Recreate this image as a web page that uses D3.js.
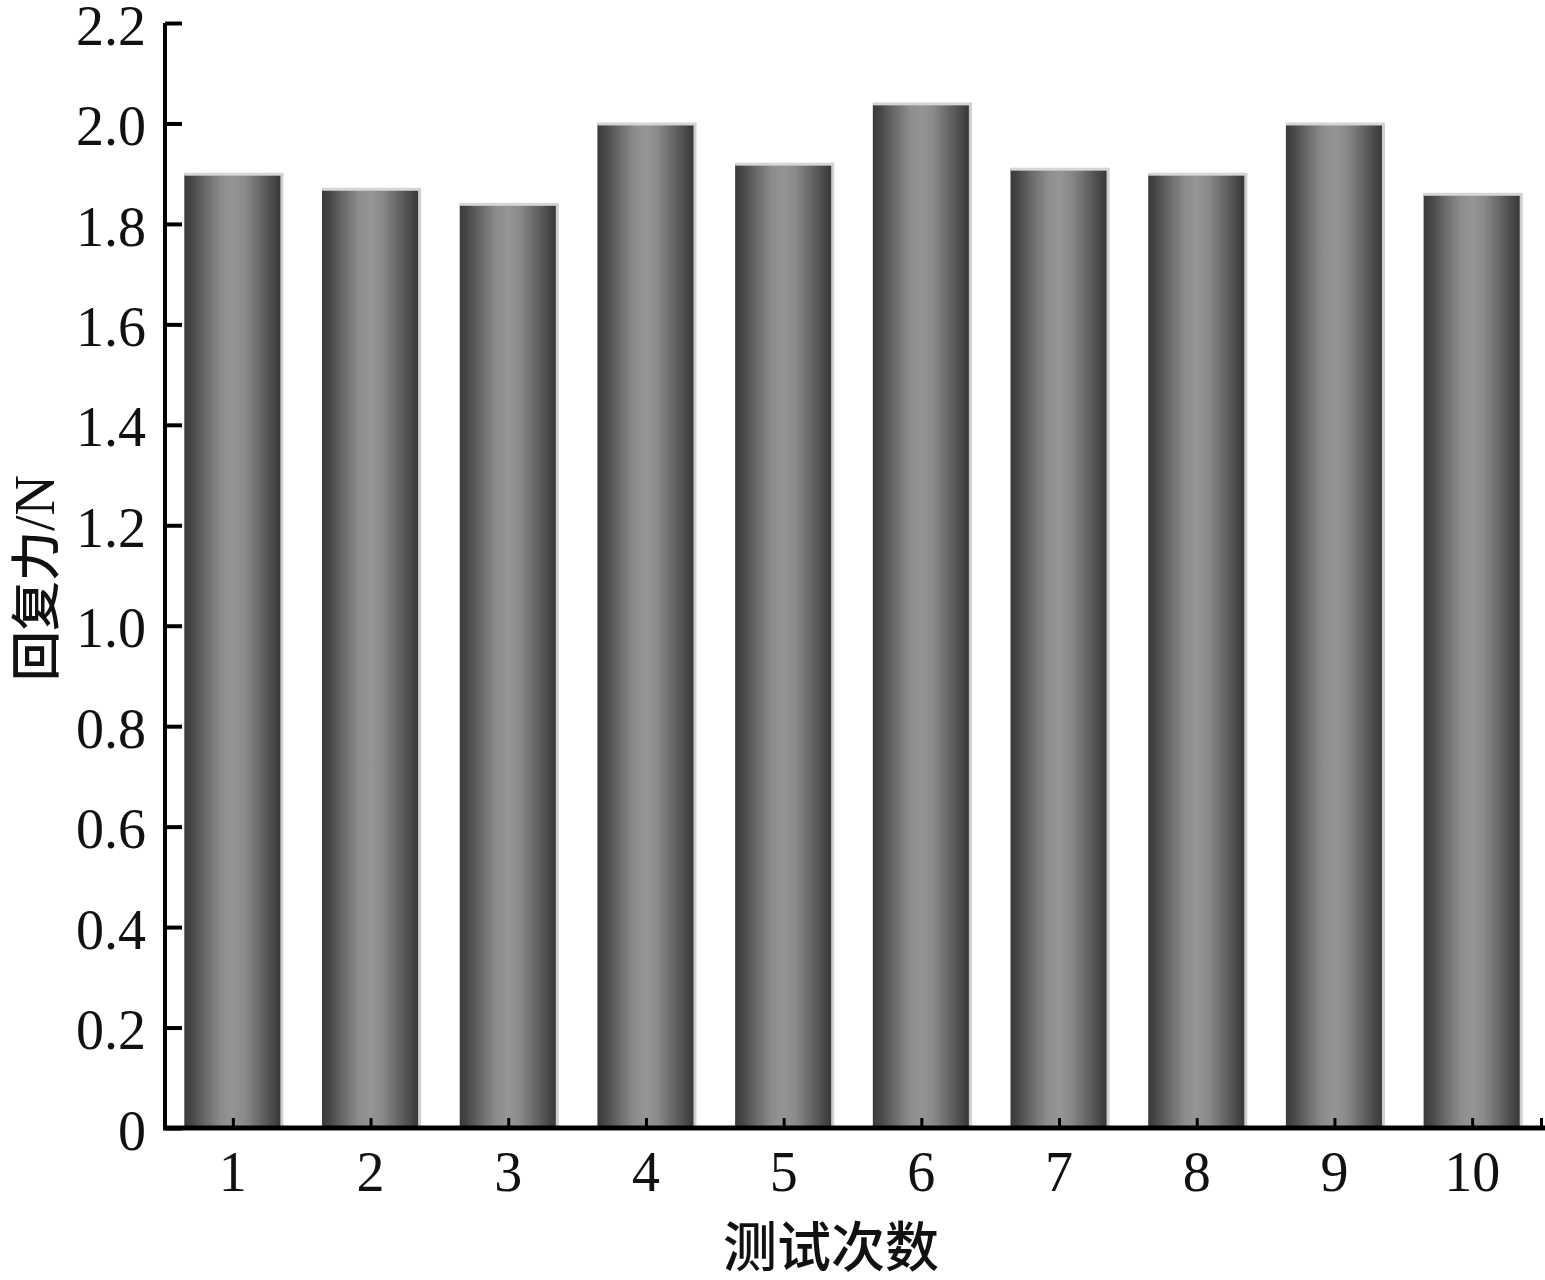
<!DOCTYPE html>
<html>
<head>
<meta charset="utf-8">
<script src="https://cdn.jsdelivr.net/npm/d3@7/dist/d3.min.js"></script>
<style>
  html, body { margin: 0; padding: 0; background: #fff; }
  svg { display: block; }
</style>
</head>
<body>
<svg id="chart" width="1545" height="1280"></svg>
<script>
const categories = [1, 2, 3, 4, 5, 6, 7, 8, 9, 10];
const values = [1.90, 1.87, 1.84, 2.00, 1.92, 2.04, 1.91, 1.90, 2.00, 1.86];
const yTicks = [0, 0.2, 0.4, 0.6, 0.8, 1.0, 1.2, 1.4, 1.6, 1.8, 2.0, 2.2];
const xLabel = "测试次数";
const yLabel = "回复力/N";

const svg = d3.select("#chart");
const x = d3.scaleLinear().domain([0.5, 10.5]).range([164, 1541]);
const y = d3.scaleLinear().domain([0, 2.2]).range([1128, 23]);
const step = x(2) - x(1);
const bw = step * 0.705;

const defs = svg.append("defs");
const g = defs.append("linearGradient").attr("id", "barGrad")
  .attr("x1", "0%").attr("x2", "100%").attr("y1", "0%").attr("y2", "0%");
[[0, "#3a3a3a"], [0.08, "#474747"], [0.22, "#6a6a6a"], [0.38, "#8c8c8c"],
 [0.5, "#959595"], [0.62, "#8a8a8a"], [0.78, "#676767"], [0.92, "#474747"], [1, "#363636"]]
  .forEach(([o, c]) => g.append("stop").attr("offset", o).attr("stop-color", c));

const bars = svg.append("g");
categories.forEach((c, i) => {
  const x0 = x(c) - bw / 2;
  const top = y(values[i]);
  bars.append("rect").attr("x", x0).attr("y", top).attr("width", bw)
    .attr("height", y(0) - top).attr("fill", "url(#barGrad)");
  bars.append("rect").attr("x", x0).attr("y", top - 1).attr("width", bw + 2)
    .attr("height", 3).attr("fill", "#d6d6d6");
  bars.append("rect").attr("x", x0 + bw - 1).attr("y", top).attr("width", 3)
    .attr("height", y(0) - top).attr("fill", "#cfcfcf");
});

const font = "'Liberation Serif', 'Times New Roman', serif";

// Y axis
const yAxis = d3.axisRight(y).tickValues(yTicks).tickSize(17).tickFormat("");
const ya = svg.append("g").attr("transform", "translate(165,0)").call(yAxis);
ya.select(".domain").attr("stroke", "#000").attr("stroke-width", 4)
  .attr("d", `M0,${y(2.2)}V${y(0)}`);
ya.selectAll(".tick line").attr("stroke", "#000").attr("stroke-width", 4);

svg.append("g").selectAll("text").data(yTicks).join("text")
  .attr("x", 146).attr("y", d => y(d) + 2).attr("dy", "0.35em")
  .attr("text-anchor", "end")
  .style("font-family", font).style("font-size", "56px").attr("fill", "#111")
  .text(d => d === 0 ? "0" : d.toFixed(1));

// X axis
const xAxis = d3.axisTop(x).tickValues(categories.concat([10.5])).tickSize(10).tickFormat("");
const xa = svg.append("g").attr("transform", `translate(0,${y(0)})`).call(xAxis);
xa.select(".domain").attr("stroke", "#000").attr("stroke-width", 5)
  .attr("d", `M163,0H1545`);
xa.selectAll(".tick line").attr("stroke", "#000").attr("stroke-width", 3);

svg.append("g").selectAll("text").data(categories).join("text")
  .attr("x", d => x(d)).attr("y", 1191)
  .attr("text-anchor", "middle")
  .style("font-family", font).style("font-size", "56px").attr("fill", "#111")
  .text(d => d);

// Axis titles
svg.append("text").attr("x", 831).attr("y", 1267).attr("text-anchor", "middle")
  .style("font-family", "'Noto Sans CJK SC', sans-serif").style("font-size", "54px")
  .style("font-weight", "500").attr("fill", "#111").text(xLabel);

const yl = svg.append("text").attr("transform", "translate(54,578) rotate(-90)")
  .attr("text-anchor", "middle").attr("fill", "#111");
yl.append("tspan").style("font-family", "'Noto Sans CJK SC', sans-serif")
  .style("font-size", "50px").style("font-weight", "500").text(yLabel.slice(0, 3));
yl.append("tspan").style("font-family", font).style("font-size", "56px").text(yLabel.slice(3));
</script>
</body>
</html>
